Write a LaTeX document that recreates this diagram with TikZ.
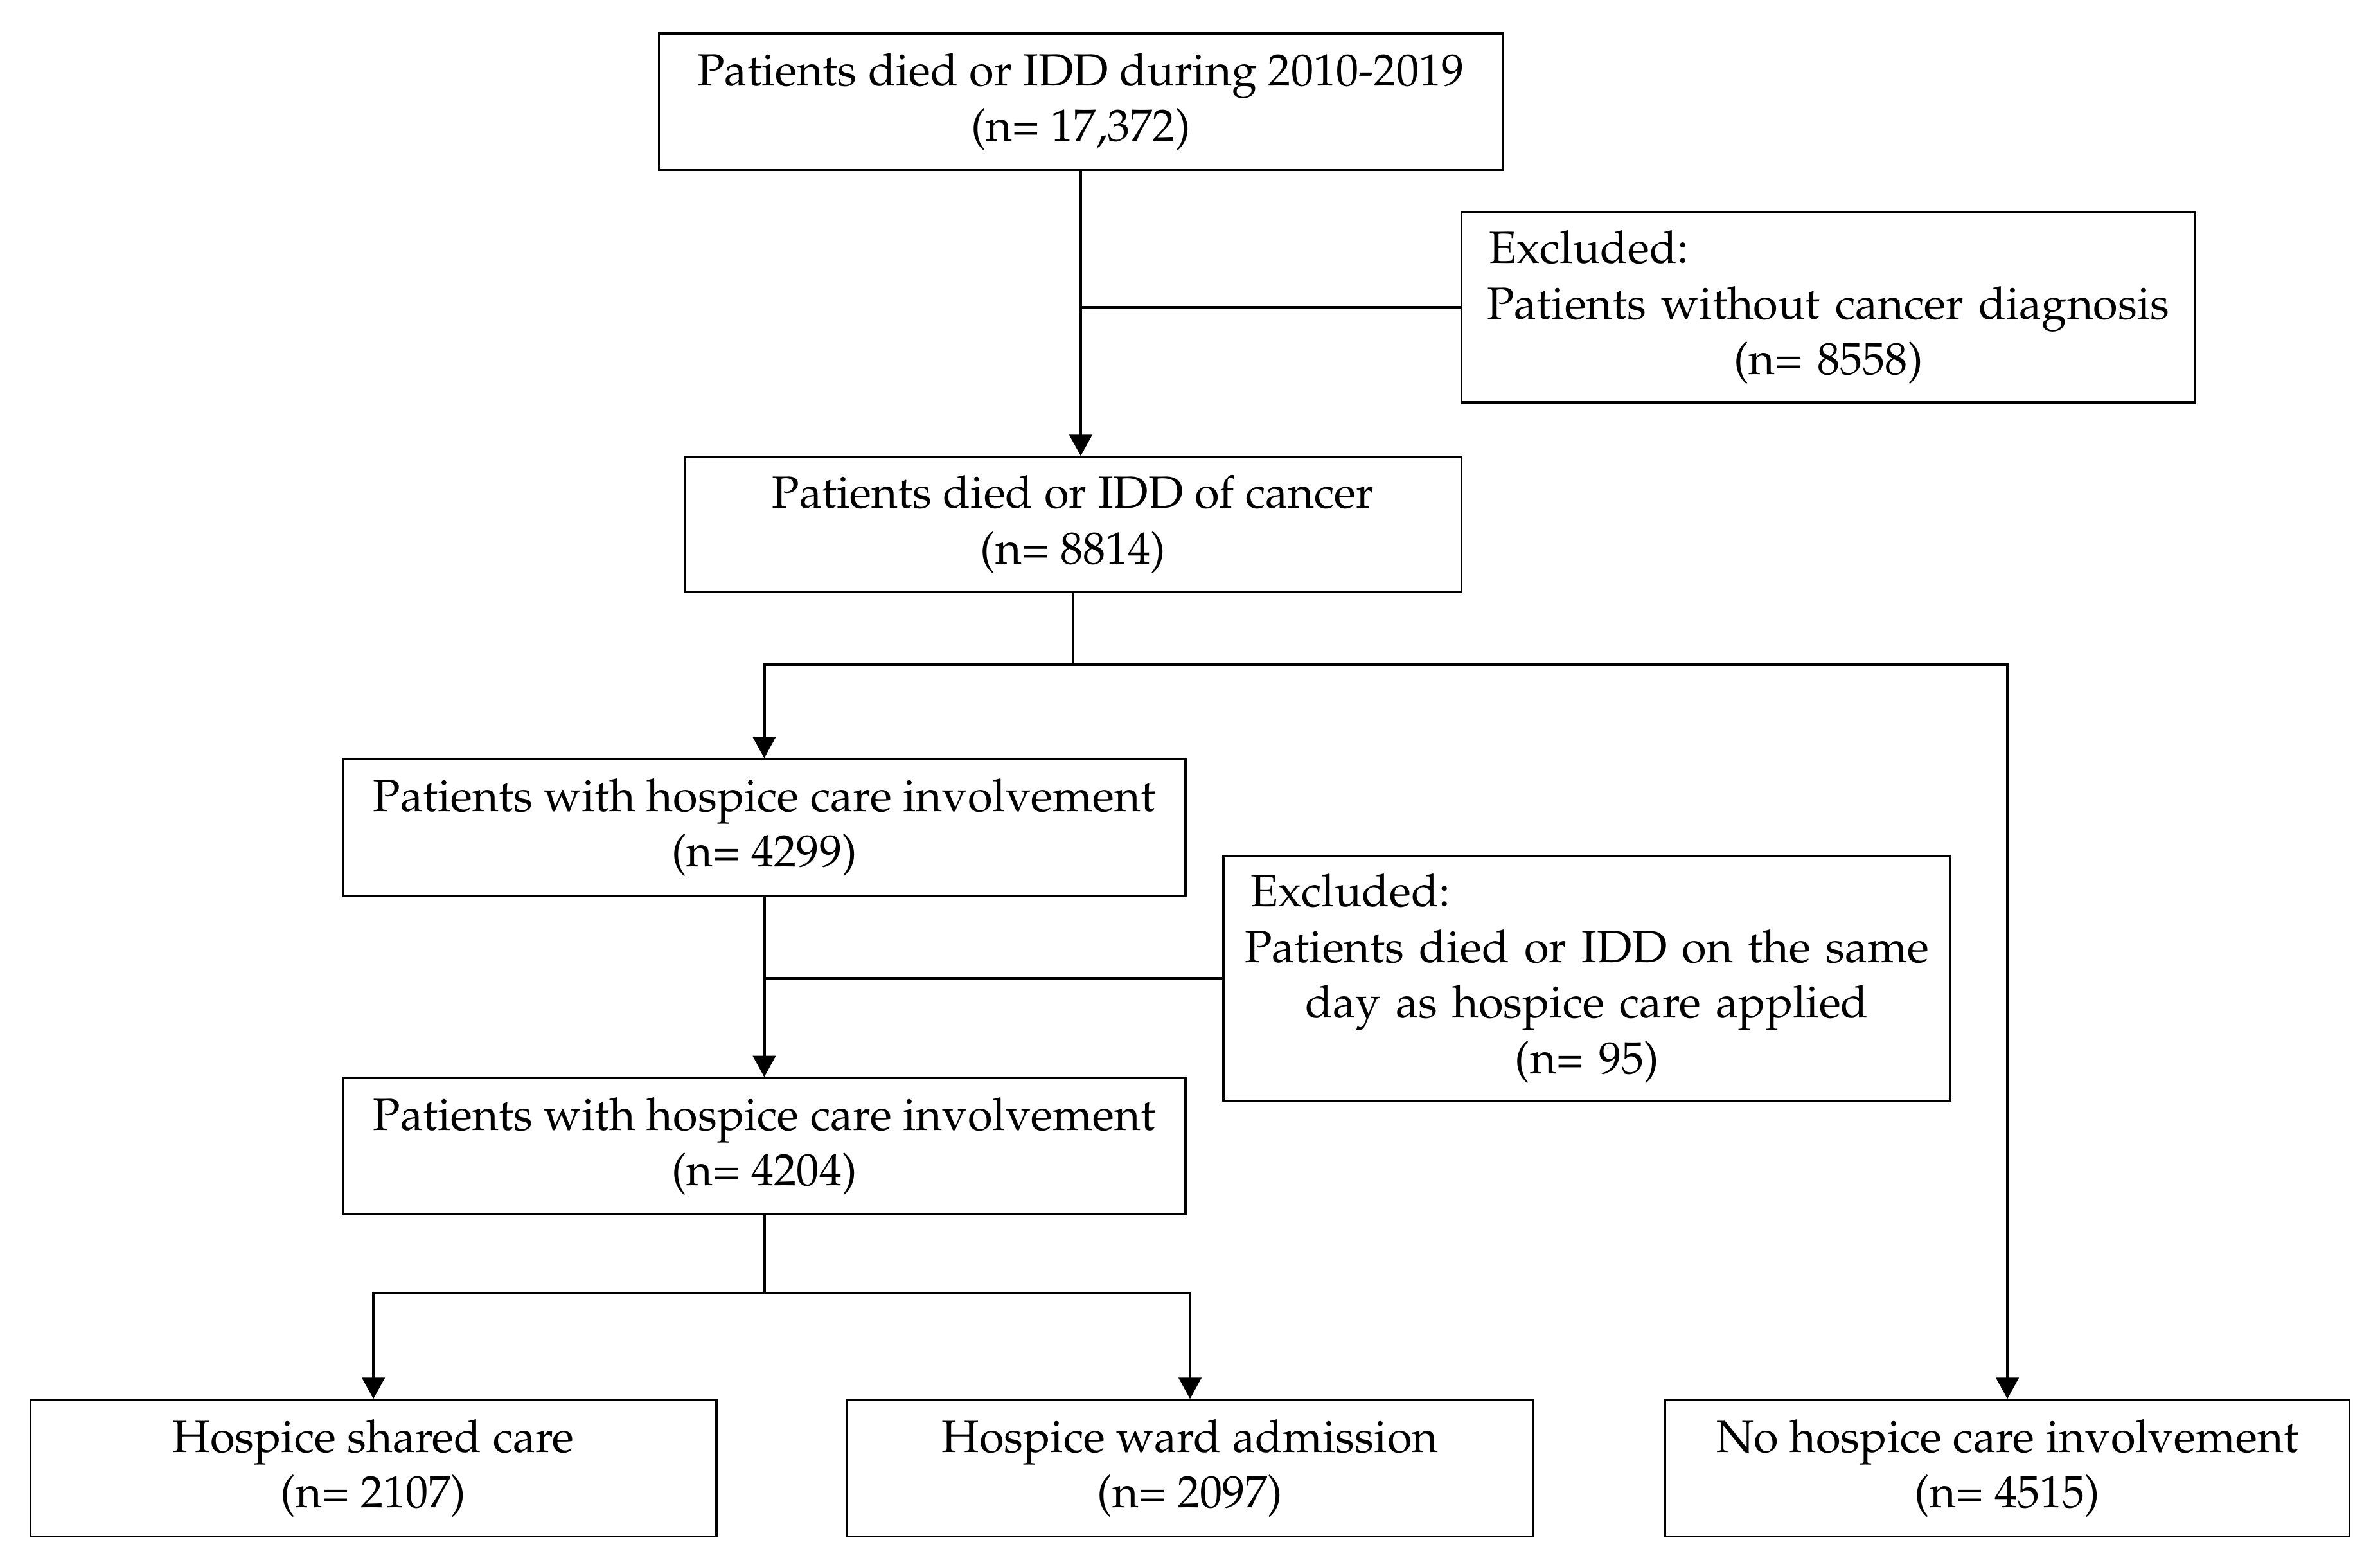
\documentclass[tikz,border=0pt]{standalone}
\usepackage[T1]{fontenc}
\usepackage{mathpazo}
\usetikzlibrary{arrows.meta,positioning}
\tikzset{>={Triangle[width=0.35cm,length=0.33cm]}}
\tikzset{
  box/.style={draw, line width=0.9pt, align=center, inner sep=0pt,
    font=\fontsize{20}{24.6}\selectfont},
  link/.style={line width=1.3pt},
}
% left label inside the exclusion boxes
\newcommand\exclhead{\makebox[\linewidth][l]{\hspace{0.33cm}Excluded:}}

\begin{document}
\begin{tikzpicture}[x=0.02362cm, y=-0.02362cm]

  \newcommand\U{0.02362cm}
  \newcommand\BH{90*\U}

  \useasboundingbox (0,0) rectangle (1568,1032);

  % main column
  \node[box, minimum width={556*\U}, minimum height=\BH] (top) at (712,67)
    {Patients died or IDD during 2010-2019\\(n= 17,372)};
  \node[box, minimum width={512*\U}, minimum height={89*\U}] (cancer) at (707,345.5)
    {Patients died or IDD of cancer\\(n= 8814)};
  \node[box, minimum width={555*\U}, minimum height=\BH] (hosp1) at (503.5,545)
    {Patients with hospice care involvement\\(n= 4299)};
  \node[box, minimum width={555*\U}, minimum height=\BH] (hosp2) at (503.5,755)
    {Patients with hospice care involvement\\(n= 4204)};

  % exclusions
  \node[box, text width={475*\U}, inner xsep={4*\U}, minimum height={125*\U}] (excl1) at (1204.5,202.5)
    {\exclhead\\Patients without cancer diagnosis\\(n= 8558)};
  \node[box, text width={471*\U}, inner xsep={4*\U}, minimum height={161*\U}] (excl2) at (1045.5,644.5)
    {\exclhead\\Patients died or IDD on the same\\day as hospice care applied\\(n= 95)};

  % bottom row
  \node[box, minimum width={452*\U}, minimum height=\BH] (shared) at (246,967)
    {Hospice shared care\\(n= 2107)};
  \node[box, minimum width={452*\U}, minimum height=\BH] (ward) at (784,967)
    {Hospice ward admission\\(n= 2097)};
  \node[box, minimum width={451*\U}, minimum height=\BH] (nohosp) at (1322.5,967)
    {No hospice care involvement\\(n= 4515)};

  % connectors
  \draw[link, ->] (top.south) -- (top.south |- cancer.north);
  \draw[link] (excl1.west) -- (top.south |- excl1.west);

  \draw[link] (cancer.south) -- ++(0,47) coordinate (split1);
  \draw[link, ->] (split1) -| (hosp1.north);
  \draw[link, ->] (split1) -| (nohosp.north);

  \draw[link, ->] (hosp1.south) -- (hosp2.north);
  \draw[link] (excl2.west) -- (hosp1.south |- excl2.west);

  \draw[link] (hosp2.south) -- ++(0,51) coordinate (split2);
  \draw[link, ->] (split2) -| (shared.north);
  \draw[link, ->] (split2) -| (ward.north);

\end{tikzpicture}
\end{document}
